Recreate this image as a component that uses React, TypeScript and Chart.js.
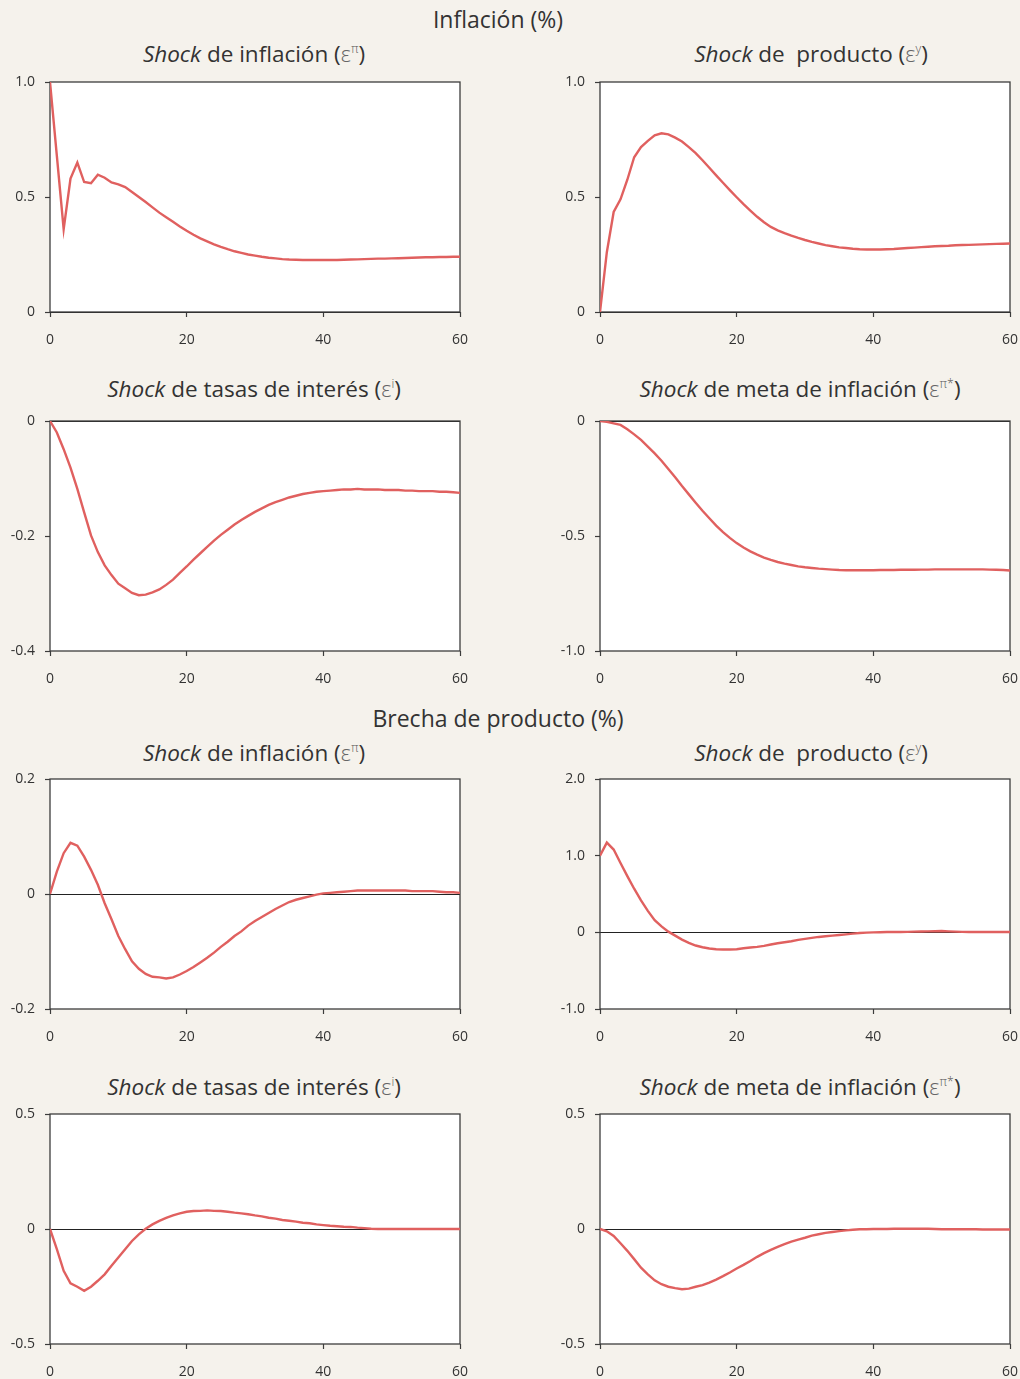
import React, { useEffect, useRef } from "react";
import { Chart, registerables } from "chart.js";

Chart.register(...registerables);

const periods = [
  0, 1, 2, 3, 4, 5, 6, 7, 8, 9, 10, 11, 12, 13, 14, 15, 16, 17, 18, 19, 20,
  21, 22, 23, 24, 25, 26, 27, 28, 29, 30, 31, 32, 33, 34, 35, 36, 37, 38, 39, 40,
  41, 42, 43, 44, 45, 46, 47, 48, 49, 50, 51, 52, 53, 54, 55, 56, 57, 58, 59, 60,
];

const xTicks = [0, 20, 40, 60];

// Inflación (%)
const infShockInflacion = [
  1.0, 0.68, 0.36, 0.58, 0.65, 0.565, 0.56, 0.597, 0.584, 0.563, 0.555,
  0.543, 0.522, 0.5, 0.478, 0.455, 0.432, 0.412, 0.392, 0.372, 0.353,
  0.336, 0.32, 0.307, 0.294, 0.283, 0.273, 0.264, 0.257, 0.25, 0.245,
  0.24, 0.236, 0.233, 0.23, 0.228, 0.227, 0.226, 0.226, 0.226, 0.226,
  0.226, 0.226, 0.227, 0.228, 0.229, 0.23, 0.231, 0.232, 0.232, 0.233,
  0.234, 0.235, 0.236, 0.237, 0.238, 0.238, 0.239, 0.239, 0.24, 0.24,
];
const infShockProducto = [
  0, 0.26, 0.435, 0.49, 0.575, 0.673, 0.717, 0.744, 0.768, 0.777, 0.772,
  0.758, 0.741, 0.717, 0.691, 0.66, 0.627, 0.594, 0.562, 0.53, 0.499,
  0.469, 0.441, 0.414, 0.39, 0.37, 0.355, 0.343, 0.332, 0.322, 0.313,
  0.305, 0.298, 0.291, 0.286, 0.281, 0.278, 0.275, 0.273, 0.272, 0.272,
  0.272, 0.273, 0.274, 0.276, 0.278, 0.28, 0.282, 0.284, 0.286, 0.287,
  0.288, 0.29, 0.291, 0.292, 0.293, 0.294, 0.295, 0.296, 0.297, 0.298,
];
const infShockTasas = [
  0, -0.02, -0.049, -0.081, -0.118, -0.159, -0.199, -0.228, -0.251, -0.268, -0.283,
  -0.291, -0.299, -0.303, -0.302, -0.298, -0.293, -0.285, -0.276, -0.264, -0.253,
  -0.241, -0.23, -0.219, -0.208, -0.198, -0.189, -0.18, -0.172, -0.165, -0.158,
  -0.152, -0.146, -0.141, -0.137, -0.133, -0.13, -0.127, -0.125, -0.123, -0.122,
  -0.121, -0.12, -0.119, -0.119, -0.118, -0.119, -0.119, -0.119, -0.12, -0.12,
  -0.12, -0.121, -0.121, -0.122, -0.122, -0.122, -0.123, -0.123, -0.124, -0.125,
];
const infShockMeta = [
  0, -0.004, -0.01, -0.017, -0.036, -0.058, -0.082, -0.111, -0.141, -0.173, -0.209,
  -0.245, -0.283, -0.319, -0.355, -0.39, -0.423, -0.455, -0.483, -0.508, -0.531,
  -0.55, -0.567, -0.581, -0.594, -0.604, -0.613, -0.62, -0.626, -0.632, -0.636,
  -0.639, -0.642, -0.644, -0.646, -0.648, -0.649, -0.649, -0.649, -0.649, -0.649,
  -0.648, -0.648, -0.648, -0.647, -0.647, -0.647, -0.646, -0.646, -0.645, -0.645,
  -0.645, -0.645, -0.645, -0.645, -0.645, -0.645, -0.646, -0.647, -0.648, -0.65,
];

// Brecha de producto (%)
const gapShockInflacion = [
  0, 0.039, 0.071, 0.089, 0.084, 0.065, 0.042, 0.016, -0.016, -0.044, -0.073,
  -0.096, -0.117, -0.13, -0.139, -0.144, -0.145, -0.147, -0.145, -0.14, -0.134,
  -0.127, -0.119, -0.111, -0.102, -0.092, -0.083, -0.073, -0.065, -0.055, -0.047,
  -0.04, -0.033, -0.026, -0.02, -0.014, -0.01, -0.007, -0.004, -0.001, 0.001,
  0.002, 0.003, 0.004, 0.005, 0.006, 0.006, 0.006, 0.006, 0.006, 0.006,
  0.006, 0.006, 0.005, 0.005, 0.005, 0.005, 0.004, 0.003, 0.003, 0.002,
];
const gapShockProducto = [
  1.0, 1.17, 1.08, 0.905, 0.733, 0.569, 0.418, 0.28, 0.159, 0.078, 0.009,
  -0.043, -0.095, -0.138, -0.172, -0.194, -0.211, -0.22, -0.224, -0.224, -0.22,
  -0.207, -0.198, -0.19, -0.177, -0.159, -0.142, -0.129, -0.116, -0.099, -0.086,
  -0.073, -0.06, -0.051, -0.043, -0.034, -0.026, -0.017, -0.009, -0.004, 0.0,
  0.002, 0.004, 0.004, 0.004, 0.006, 0.009, 0.011, 0.013, 0.015, 0.017,
  0.013, 0.009, 0.006, 0.004, 0.004, 0.004, 0.004, 0.004, 0.004, 0.004,
];
const gapShockTasas = [
  0, -0.088, -0.182, -0.236, -0.251, -0.269, -0.251, -0.225, -0.197, -0.16, -0.124,
  -0.088, -0.052, -0.023, 0.001, 0.02, 0.035, 0.048, 0.059, 0.068, 0.075,
  0.078, 0.079, 0.081, 0.079, 0.078, 0.075, 0.071, 0.068, 0.064, 0.059,
  0.055, 0.049, 0.045, 0.039, 0.036, 0.032, 0.027, 0.025, 0.02, 0.017,
  0.014, 0.012, 0.01, 0.009, 0.006, 0.004, 0.001, 0.0, 0.0, 0.0,
  0.0, 0.0, 0.0, 0.0, 0.0, 0.0, 0.0, 0.0, 0.0, 0.0,
];
const gapShockMeta = [
  0, -0.01, -0.03, -0.062, -0.095, -0.131, -0.168, -0.197, -0.223, -0.24, -0.251,
  -0.257, -0.262, -0.259, -0.251, -0.244, -0.233, -0.22, -0.205, -0.189, -0.172,
  -0.156, -0.139, -0.121, -0.105, -0.091, -0.078, -0.066, -0.055, -0.046, -0.038,
  -0.029, -0.023, -0.017, -0.013, -0.009, -0.006, -0.003, -0.001, -0.001, 0.0,
  0.0, 0.0, 0.001, 0.001, 0.001, 0.001, 0.001, 0.001, 0.0, -0.001,
  -0.001, -0.001, -0.001, -0.001, -0.001, -0.002, -0.002, -0.002, -0.002, -0.002,
];

const BG = "#f5f2ec";
const LINE = "#e0605f";
const AXIS = "#3c3c3c";
const TEXT = "#333333";
const FONT = "'Open Sans', 'Noto Sans', sans-serif";

const framePlugin = {
  id: "frame",
  beforeDraw(chart: any) {
    const a = chart.chartArea;
    const ctx = chart.ctx;
    ctx.save();
    ctx.fillStyle = "#ffffff";
    ctx.fillRect(a.left, a.top, a.right - a.left, a.bottom - a.top);
    ctx.restore();
  },
  beforeDatasetsDraw(chart: any) {
    const a = chart.chartArea;
    const ctx = chart.ctx;
    ctx.save();
    ctx.strokeStyle = AXIS;
    ctx.lineWidth = 1.3;
    ctx.strokeRect(a.left, a.top, a.right - a.left, a.bottom - a.top);
    ctx.restore();
  },
};

function fmt(v: number) {
  if (Math.abs(v) < 1e-9) return "0";
  return v.toFixed(1);
}

type PanelProps = {
  left: number;
  top: number;
  values: number[];
  yMin: number;
  yMax: number;
  yStep: number;
};

const CW = 470;
const CH = 280;

function Panel({ left, top, values, yMin, yMax, yStep }: PanelProps) {
  const ref = useRef<HTMLCanvasElement | null>(null);
  useEffect(() => {
    if (!ref.current) return;
    const chart = new Chart(ref.current, {
      type: "line",
      data: {
        datasets: [
          {
            data: values.map((v, i) => ({ x: periods[i], y: v })),
            borderColor: LINE,
            borderWidth: 2.4,
            pointRadius: 0,
            tension: 0,
            fill: false,
          },
        ],
      },
      options: {
        animation: false,
        responsive: false,
        devicePixelRatio: 1,
        layout: { padding: 0 },
        plugins: { legend: { display: false }, tooltip: { enabled: false } },
        scales: {
          x: {
            type: "linear",
            min: 0,
            max: 60,
            afterBuildTicks: (s: any) => {
              s.ticks = xTicks.map((v) => ({ value: v }));
            },
            afterFit: (s: any) => {
              s.height = 40;
              s.paddingLeft = 0;
              s.paddingRight = 10;
            },
            ticks: {
              stepSize: 20,
              padding: 15,
              color: TEXT,
              font: { family: FONT, size: 14 },
              maxRotation: 0,
              callback: (v: any) => String(v),
            },
            grid: {
              drawOnChartArea: false,
              drawTicks: true,
              tickLength: 5,
              tickColor: AXIS,
              tickWidth: 1.2,
            },
            border: { display: false },
          },
          y: {
            min: yMin,
            max: yMax,
            afterFit: (s: any) => {
              s.width = 50;
              s.paddingTop = 10;
              s.paddingBottom = 0;
            },
            ticks: {
              stepSize: yStep,
              padding: 10,
              color: TEXT,
              font: { family: FONT, size: 14 },
              callback: (v: any) => fmt(Number(v)),
            },
            grid: {
              drawOnChartArea: true,
              drawTicks: true,
              tickLength: 5,
              tickColor: AXIS,
              tickWidth: 1.2,
              lineWidth: 1,
              color: (c: any) =>
                c.tick && Math.abs(c.tick.value) < 1e-9 ? "#222222" : "rgba(0,0,0,0)",
            },
            border: { display: false },
          },
        },
      },
      plugins: [framePlugin],
    });
    return () => chart.destroy();
  }, [values, yMin, yMax, yStep]);
  return (
    <canvas
      ref={ref}
      width={CW}
      height={CH}
      style={{ position: "absolute", left, top, width: CW, height: CH }}
    />
  );
}

const titleStyle = (cx: number, baseline: number, size: number): React.CSSProperties => ({
  position: "absolute",
  left: cx - 300,
  width: 600,
  top: baseline - 1.069 * size,
  textAlign: "center",
  fontFamily: FONT,
  fontSize: size,
  lineHeight: `${1.362 * size}px`,
  color: TEXT,
  whiteSpace: "pre",
});

function Eps({ sup }: { sup: string }) {
  return (
    <span>
      (<span style={{ fontWeight: 300, color: "#666" }}>ε</span>
      <sup style={{ fontSize: "0.55em", verticalAlign: "0.75em", fontWeight: 300, color: "#555" }}>{sup}</sup>)
    </span>
  );
}

function Sub({ cx, base, rest, sup }: { cx: number; base: number; rest: string; sup: string }) {
  return (
    <div style={titleStyle(cx, base, 22.5)}>
      <i>Shock</i>
      {rest}
      <Eps sup={sup} />
    </div>
  );
}

const LCX = 254;
const PROD_CX = 811;
const META_CX = 800;

export default function App() {
  return (
    <div
      style={{
        position: "absolute",
        left: 0,
        top: 0,
        width: 1020,
        height: 1379,
        background: BG,
        overflow: "hidden",
      }}
    >
      <div style={titleStyle(498, 28.5, 23)}>Inflación (%)</div>
      <Sub cx={LCX} base={58} rest=" de inflación " sup="π" />
      <Sub cx={PROD_CX} base={58} rest=" de  producto " sup="y" />
      <Panel left={0} top={72} values={infShockInflacion} yMin={0} yMax={1} yStep={0.5} />
      <Panel left={550} top={72} values={infShockProducto} yMin={0} yMax={1} yStep={0.5} />

      <Sub cx={LCX} base={393} rest=" de tasas de interés " sup="i" />
      <Sub cx={META_CX} base={393} rest=" de meta de inflación " sup="π*" />
      <Panel left={0} top={411} values={infShockTasas} yMin={-0.4} yMax={0} yStep={0.2} />
      <Panel left={550} top={411} values={infShockMeta} yMin={-1} yMax={0} yStep={0.5} />

      <div style={titleStyle(498, 727.5, 23)}>Brecha de producto (%)</div>
      <Sub cx={LCX} base={757} rest=" de inflación " sup="π" />
      <Sub cx={PROD_CX} base={757} rest=" de  producto " sup="y" />
      <Panel left={0} top={769} values={gapShockInflacion} yMin={-0.2} yMax={0.2} yStep={0.2} />
      <Panel left={550} top={769} values={gapShockProducto} yMin={-1} yMax={2} yStep={1} />

      <Sub cx={LCX} base={1091} rest=" de tasas de interés " sup="i" />
      <Sub cx={META_CX} base={1091} rest=" de meta de inflación " sup="π*" />
      <Panel left={0} top={1104} values={gapShockTasas} yMin={-0.5} yMax={0.5} yStep={0.5} />
      <Panel left={550} top={1104} values={gapShockMeta} yMin={-0.5} yMax={0.5} yStep={0.5} />
    </div>
  );
}
